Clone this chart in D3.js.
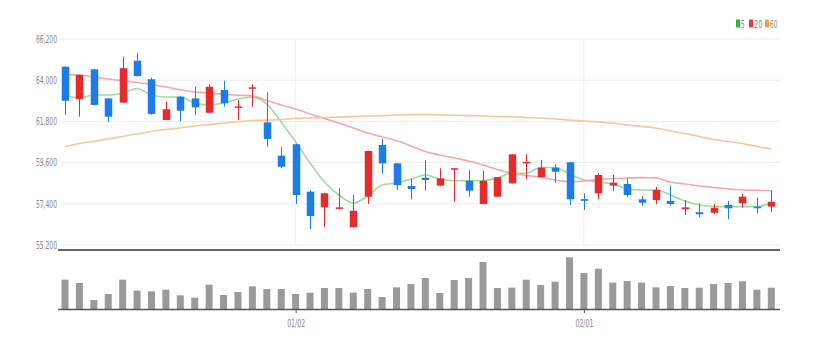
<!DOCTYPE html>
<html>
<head>
<meta charset="utf-8">
<script src="https://cdn.jsdelivr.net/npm/d3@7"></script>
<style>
html,body{margin:0;padding:0;background:#fff;}
svg{display:block;}
text{font-family:"Liberation Sans Narrow","Arial Narrow","DejaVu Sans Condensed",sans-serif;}
</style>
</head>
<body>
<svg id="chart" width="815" height="348"></svg>
<script>
const dates = ["12/08","12/09","12/12","12/13","12/14","12/15","12/16","12/19","12/20","12/21","12/22","12/23","12/26","12/27","12/28","12/29",
"01/02","01/03","01/04","01/05","01/06","01/09","01/10","01/11","01/12","01/13","01/16","01/17","01/18","01/19","01/20","01/25","01/26","01/27","01/30","01/31",
"02/01","02/02","02/03","02/06","02/07","02/08","02/09","02/10","02/13","02/14","02/15","02/16","02/17","02/20"];
const openP  = [64720,62980,64580,63030,62800,65040,64050,61875,63120,63030,62260,63480,62560,63580,61750,59970,60580,58050,57210,57170,56150,57780,60540,59560,58350,58790,58370,59260,58630,57390,57780,58490,59600,58820,59330,59620,57650,57960,58370,58460,57640,57600,57550,57110,56950,56920,57340,57430,57250,57250];
const highP  = [64750,64300,64600,63050,65250,65470,64130,62850,63150,63650,63780,63970,62940,63780,63350,60420,60600,58140,57990,58230,57870,60240,60860,59580,58720,59740,59300,59320,59200,59150,58830,60060,60060,59740,59510,59640,57960,59030,58940,58760,57820,58310,58370,57600,57430,57390,57550,57920,57720,58100];
const lowP   = [62140,62050,62650,61780,62780,64200,62150,61870,61820,62140,62250,62590,61880,62590,60450,59300,57390,56050,56150,57100,56140,57390,59030,58140,57640,58100,58340,57510,57780,57380,57770,58480,58710,58800,58530,57340,57070,57640,58080,57780,57300,57390,57300,56800,56680,56860,56570,57190,56890,56950];
const closeP = [62900,64280,62680,62050,64640,64220,62200,62450,62370,62550,63650,62770,62600,63620,60860,59380,57870,56750,57960,57210,57030,60220,59560,58400,58190,58670,58760,59300,58100,58630,58820,60040,59640,59330,59110,57640,57560,58940,58530,57870,57460,58140,57390,57210,56840,57190,57160,57780,57160,57510];
const volume = [17600,15600,5400,9000,17600,11000,10600,11600,8200,6800,14600,8400,10200,13600,12000,12000,9000,9800,12600,12600,9800,12000,7200,13000,15000,18600,9600,17400,18600,28200,12600,12800,17600,14400,16400,31000,21600,24200,15800,16800,15800,13000,13800,12600,12800,15000,15600,16600,11600,12800];
const ma5  = [63210,63050,63210,63210,63320,63560,63210,63100,63100,62780,62680,62780,63000,63090,62730,61770,60700,59580,58560,57870,57440,57820,58400,58510,58720,58940,58720,58630,58630,58640,58780,59030,59030,59340,59340,58990,58670,58560,58460,58190,58140,58140,57870,57550,57340,57260,57250,57250,57250,57440];
const ma20 = [64300,64280,64170,64060,63970,63880,63770,63640,63490,63370,63320,63250,63200,63160,62920,62680,62460,62200,61960,61710,61450,61180,60970,60780,60490,60190,60010,59850,59690,59470,59230,59040,58910,58830,58670,58590,58620,58700,58750,58780,58800,58780,58560,58460,58350,58270,58190,58140,58120,58100];
const ma60 = [60450,60620,60730,60860,60990,61130,61260,61370,61450,61550,61630,61710,61790,61850,61870,61900,61960,61980,62010,62030,62060,62090,62110,62140,62170,62170,62150,62130,62110,62090,62060,62050,62010,61980,61930,61870,61820,61770,61700,61610,61530,61450,61290,61150,60990,60830,60730,60620,60460,60330];
const priceTicks = [55200,57400,59600,61800,64000,66200];
const xTickLabels = ["01/02","02/01"];
const maNames = ["5","20","60"];

const UP = "#e62b2f", DOWN = "#1d7de8";
const svg = d3.select("#chart");

const x = d3.scalePoint().domain(dates).range([65, 771.3]);
const y = d3.scaleLinear().domain([55200, 66200]).range([245, 39]);
const yv = d3.scaleLinear().domain([0, 32400]).range([309, 255]);

// grid
svg.append("g").selectAll("line").data(priceTicks).join("line")
  .attr("x1", 60).attr("x2", 780)
  .attr("y1", d => y(d)).attr("y2", d => y(d))
  .attr("stroke", "#ececec").attr("stroke-width", 1);
svg.append("g").selectAll("line").data(xTickLabels).join("line")
  .attr("x1", d => x(d)).attr("x2", d => x(d))
  .attr("y1", y(66200)).attr("y2", y(55200))
  .attr("stroke", "#efefef").attr("stroke-width", 1);

// y axis labels
const yAxis = d3.axisLeft(y).tickValues(priceTicks).tickSize(0).tickPadding(0)
  .tickFormat(d3.format(","));
const ya = svg.append("g").attr("transform", "translate(57,0)").call(yAxis);
ya.select(".domain").remove();
ya.selectAll("text").attr("fill", "#8a8a8a").style("font-size", "10.5px")
  .attr("textLength", 21).attr("lengthAdjust", "spacingAndGlyphs");

// MA lines
const idx = d3.range(dates.length);
const maColors = ["#9edc9a", "#f6a6ad", "#f9c699"];
[ma5, ma20, ma60].forEach((arr, k) => {
  const line = d3.line().x(i => x(dates[i])).y(i => y(arr[i])).curve(d3.curveMonotoneX);
  svg.append("path").datum(idx).attr("d", line)
    .attr("fill", "none").attr("stroke", maColors[k]).attr("stroke-width", 1.6);
});

// candles
const bw = 7.5;
const cg = svg.append("g");
idx.forEach(i => {
  const up = closeP[i] >= openP[i];
  const col = up ? UP : DOWN;
  const cx = Math.round(x(dates[i])) + 0.5;
  cg.append("line").attr("x1", cx).attr("x2", cx)
    .attr("y1", y(highP[i])).attr("y2", y(lowP[i]))
    .attr("stroke", col).attr("stroke-width", 1);
  const top = y(Math.max(openP[i], closeP[i]));
  const bot = y(Math.min(openP[i], closeP[i]));
  cg.append("rect").attr("x", cx - bw / 2).attr("width", bw)
    .attr("y", top).attr("height", Math.max(1.5, bot - top))
    .attr("fill", col);
});

// separator
svg.append("line").attr("x1", 58).attr("x2", 780).attr("y1", 250).attr("y2", 250)
  .attr("stroke", "#333").attr("stroke-width", 1.6);

// volume bars
svg.append("g").selectAll("rect").data(idx).join("rect")
  .attr("x", i => x(dates[i]) - 3.5).attr("width", 7)
  .attr("y", i => yv(volume[i])).attr("height", i => yv(0) - yv(volume[i]))
  .attr("fill", "#9a9a9a");

// x axis
const xAxis = d3.axisBottom(x).tickValues(xTickLabels).tickSize(4).tickPadding(7);
const xa = svg.append("g").attr("transform", "translate(0,309)").call(xAxis);
xa.select(".domain").attr("d", "M58,0.5H780").attr("stroke", "#555").attr("stroke-width", 1.5);
xa.selectAll(".tick line").attr("stroke", "#555");
xa.selectAll("text").attr("fill", "#8a8a8a").style("font-size", "10.5px")
  .attr("textLength", 18).attr("lengthAdjust", "spacingAndGlyphs");

// legend
const legColors = ["#2fb52f", "#e83a3a", "#f3a04c"];
const legX = [736, 749, 765];
const legW = [3.6, 8.4, 7.4];
maNames.forEach((n, k) => {
  svg.append("rect").attr("x", legX[k]).attr("y", 19.5).attr("width", 4).attr("height", 8).attr("fill", legColors[k]);
  svg.append("text").attr("x", legX[k] + 5).attr("y", 27.5).text(n)
    .attr("fill", "#8a8a8a").style("font-size", "10.5px")
    .attr("textLength", legW[k]).attr("lengthAdjust", "spacingAndGlyphs");
});
</script>
</body>
</html>
